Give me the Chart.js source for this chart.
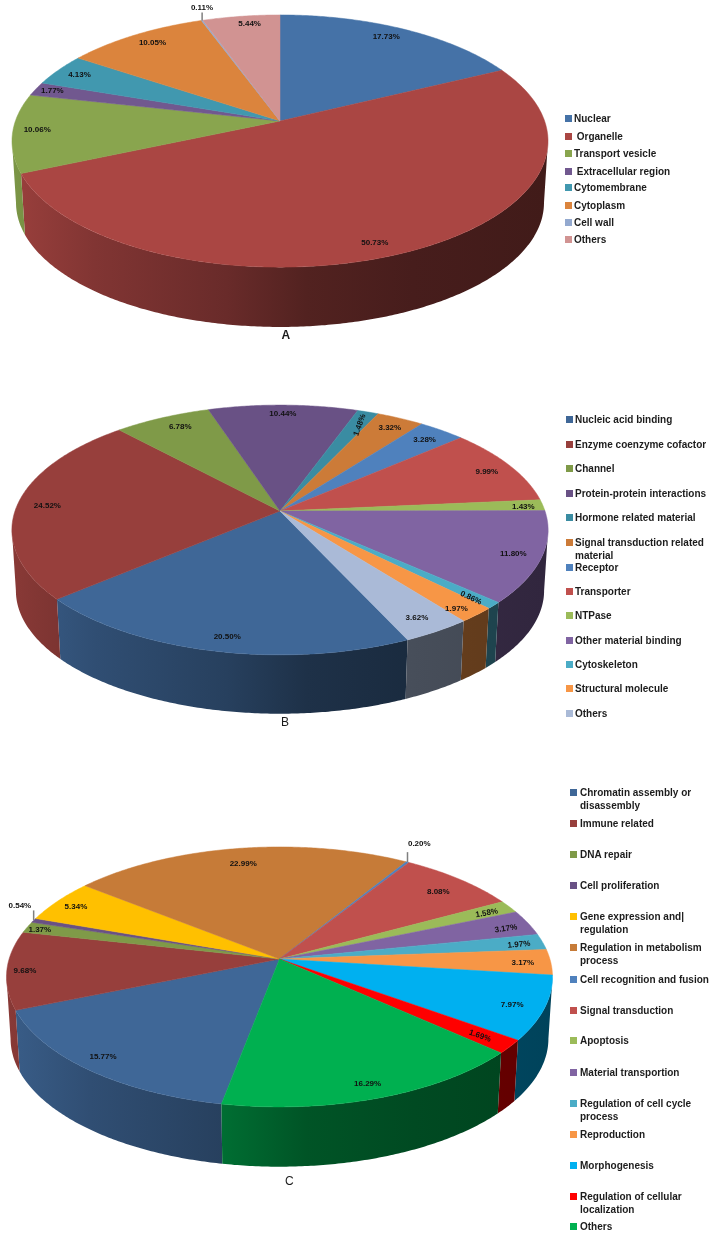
<!DOCTYPE html>
<html>
<head>
<meta charset="utf-8">
<title>Pie charts A, B, C</title>
<script src="https://cdn.jsdelivr.net/npm/chart.js@4"></script>
<style>
  html, body { margin: 0; padding: 0; background: #fff; }
  #page { position: relative; width: 714px; height: 1235px; overflow: hidden; filter: blur(0.5px); }
  canvas { position: absolute; left: 0; }
  .legend-item, .panel-name {
    position: absolute; font-family: "Liberation Sans", Arial, sans-serif; color: #1c1c1c; white-space: pre;
  }
  .legend-item { font-size: 10px; font-weight: bold; line-height: 13px; }
  .legend-swatch { position: absolute; width: 7px; height: 7px; }
  .panel-name { font-size: 12px; }
</style>
</head>
<body>
<div id="page">
  <canvas id="pieA" width="714" height="385" style="top:0"></canvas>
  <canvas id="pieB" width="714" height="385" style="top:385px"></canvas>
  <canvas id="pieC" width="714" height="465" style="top:770px"></canvas>
</div>
<script>
// Panel A
const categoriesA = ['Nuclear', ' Organelle', 'Transport vesicle', ' Extracellular region', 'Cytomembrane', 'Cytoplasm', 'Cell wall', 'Others'];
const valuesA = [17.73, 50.73, 10.06, 1.77, 4.13, 10.05, 0.11, 5.44];
const colorsA = ['#4572A7', '#AA4643', '#89A54E', '#71588F', '#4198AF', '#DB843D', '#93A9CF', '#D19392'];

// Panel B
const categoriesB = ['Nucleic acid binding', 'Enzyme coenzyme cofactor', 'Channel', 'Protein-protein interactions', 'Hormone related material', 'Signal transduction related\nmaterial', 'Receptor', 'Transporter', 'NTPase', 'Other material binding', 'Cytoskeleton', 'Structural molecule', 'Others'];
const valuesB = [20.50, 24.52, 6.78, 10.44, 1.48, 3.32, 3.28, 9.99, 1.43, 11.80, 0.86, 1.97, 3.62];
const colorsB = ['#3F6797', '#973F3C', '#7F9A48', '#695185', '#3A8CA2', '#CC7B38', '#4F81BD', '#C0504D', '#9BBB59', '#8064A2', '#4BACC6', '#F79646', '#AABAD7'];

// Panel C
const categoriesC = ['Chromatin assembly or\ndisassembly', 'Immune related', 'DNA repair', 'Cell proliferation', 'Gene expression and|\nregulation', 'Regulation in metabolism\nprocess', 'Cell recognition and fusion', 'Signal transduction', 'Apoptosis', 'Material transportion', 'Regulation of cell cycle\nprocess', 'Reproduction', 'Morphogenesis', 'Regulation of cellular\nlocalization', 'Others'];
const valuesC = [15.77, 9.68, 1.37, 0.54, 5.34, 22.99, 0.20, 8.08, 1.58, 3.17, 1.97, 3.17, 7.97, 1.69, 16.29];
const colorsC = ['#3F6797', '#973F3C', '#7F9A48', '#695185', '#FFC000', '#C67B38', '#4F81BD', '#C0504D', '#9BBB59', '#8064A2', '#4BACC6', '#F79646', '#00B0F0', '#FF0000', '#00B050'];

// Side wall brightness from the left to the right of a pie
const sideShade = [[0, 0.9], [0.15, 0.76], [0.4, 0.62], [0.55, 0.48], [0.75, 0.42], [1, 0.38]];

// cx, cy: apex in the canvas; k: perspective strength; depth, shrink: lower rim of the wall
const layoutA = {
  rotation: 0, cx: 280, cy: 121, rx: 264.6, ry: 122.9, k: 0.159, depth: 62, shrink: 0.985,
  labelRadius: [0.89, 0.91, 0.91, 0.93, 0.9, 0.89, 1.13, 0.91],
  labelShift: [-1.5, 5, 1, 0, 0, 1, 2, 1.5],
  labelTilt: [0, 0, 0, 0, 0, 0, 0, 0],
  leader: [0, 0, 0, 0, 0, 0, 8, 0],
  legendSwatch: 565, legendText: 574,
  legendY: [118, 136, 153, 171, 187, 205, 222, 239],
  name: 'A', nameX: 285.5, nameY: 335, nameBold: true
};
const layoutB = {
  rotation: 155.5, cx: 280, cy: 126, rx: 265, ry: 122, k: 0.152, depth: 61, shrink: 0.985,
  labelRadius: [0.91, 0.885, 0.875, 0.904, 0.858, 0.887, 0.873, 0.887, 0.924, 0.899, 0.915, 0.931, 0.898],
  labelShift: [-1.5, -0.5, 1.5, 0, 0.9, 0.5, 0.5, 1, 0.5, 0.5, 0.9, 1.5, 0.5],
  labelTilt: [0, 0, 0, 0, -70, 0, 0, 0, 0, 0, 25, 0, 0],
  leader: [0, 0, 0, 0, 0, 0, 0, 0, 0, 0, 0, 0, 0],
  legendSwatch: 566, legendText: 575,
  legendY: [419, 444, 468, 493, 517, 542, 567, 591, 615, 640, 664, 688, 713],
  name: 'B', nameX: 285, nameY: 722, nameBold: false
};
const layoutC = {
  rotation: 190.7, cx: 279.5, cy: 189, rx: 270.4, ry: 127.5, k: 0.138, depth: 62, shrink: 0.985,
  labelRadius: [0.91, 0.934, 0.944, 1.11, 0.906, 0.845, 1.187, 0.85, 0.891, 0.9, 0.907, 0.897, 0.889, 0.883, 0.91],
  labelShift: [1.3, -0.7, -0.7, 5, -0.7, -0.3, -2.1, 1.3, 0.6, 1.3, 0.6, 0.3, 1.3, 0.3, 0.3],
  labelTilt: [0, 0, 0, 0, 0, 0, 0, 0, -10, -8, -5, 0, 0, 20, 0],
  leader: [0, 0, 0, 10, 0, 0, 10, 0, 0, 0, 0, 0, 0, 0, 0],
  legendSwatch: 570, legendText: 580,
  legendY: [792, 823, 854, 885, 916, 947, 979, 1010, 1040, 1072, 1103, 1134, 1165, 1196, 1226],
  name: 'C', nameX: 289, nameY: 1181, nameBold: false
};

// Map an angle on the flat pie to the tilted disc in perspective
const project = (g, angle, r, lower) => {
  const u = r * Math.cos(angle);
  const v = r * Math.sin(angle);
  const w = 1 - g.k * v;
  const s = lower ? g.shrink : 1;
  return { x: g.cx + s * g.rx * u / w, y: g.cy + (lower ? g.depth : 0) + s * g.ry * v / w };
};

const arcPoints = (g, start, end, lower) => {
  const steps = Math.max(2, Math.ceil((end - start) / 0.01));
  const points = [];
  for (let i = 0; i <= steps; i++) {
    points.push(project(g, start + (end - start) * i / steps, 1, lower));
  }
  return points;
};

const darken = (hex, f) => {
  const n = parseInt(hex.slice(1), 16);
  return `rgb(${Math.round((n >> 16) * f)},${Math.round(((n >> 8) & 255) * f)},${Math.round((n & 255) * f)})`;
};

// Only the part of a slice that faces the viewer has a wall: clamp to the front half
const frontArcs = (start, end, k) => {
  const from = Math.asin(k);
  const to = Math.PI - from;
  const arcs = [];
  for (let turn = -2; turn <= 2; turn++) {
    const a = Math.max(start, from + turn * 2 * Math.PI);
    const b = Math.min(end, to + turn * 2 * Math.PI);
    if (b > a) arcs.push([a, b]);
  }
  return arcs;
};

const drawWall = (ctx, g, arc, color) => {
  const left = g.cx - g.rx;
  const gradient = ctx.createLinearGradient(left, 0, g.cx + g.rx, 0);
  sideShade.forEach(([t, f]) => gradient.addColorStop(t, darken(color, f)));
  frontArcs(arc.startAngle, arc.endAngle, g.k).forEach(([a, b]) => {
    const points = arcPoints(g, a, b, false).concat(arcPoints(g, a, b, true).reverse());
    ctx.beginPath();
    points.forEach((p, i) => (i ? ctx.lineTo(p.x, p.y) : ctx.moveTo(p.x, p.y)));
    ctx.closePath();
    ctx.fillStyle = gradient;
    ctx.fill();
  });
};

const drawTop = (ctx, g, arc, color) => {
  ctx.beginPath();
  ctx.moveTo(g.cx, g.cy);
  arcPoints(g, arc.startAngle, arc.endAngle, false).forEach(p => ctx.lineTo(p.x, p.y));
  ctx.closePath();
  ctx.fillStyle = color;
  ctx.strokeStyle = color;
  ctx.lineWidth = 0.5;
  ctx.fill();
  ctx.stroke();
};

const drawLabel = (ctx, g, arc, value, i) => {
  const mid = (arc.startAngle + arc.endAngle) / 2;
  if (g.leader[i]) {
    const rim = project(g, mid, 1, false);
    ctx.beginPath();
    ctx.moveTo(rim.x, rim.y);
    ctx.lineTo(rim.x, rim.y - g.leader[i]);
    ctx.strokeStyle = '#7f7f7f';
    ctx.lineWidth = 1.5;
    ctx.stroke();
  }
  const p = project(g, mid + g.labelShift[i] * Math.PI / 180, g.labelRadius[i], false);
  ctx.save();
  ctx.translate(p.x, p.y);
  ctx.rotate(g.labelTilt[i] * Math.PI / 180);
  ctx.font = 'bold 8px "Liberation Sans", Arial, sans-serif';
  ctx.fillStyle = '#111';
  ctx.textAlign = 'center';
  ctx.textBaseline = 'middle';
  ctx.fillText(value.toFixed(2) + '%', 0, 0);
  ctx.restore();
};

// Replaces the flat arcs with walls, a tilted top and the percent labels
const pie3d = g => ({
  id: 'pie3d',
  beforeDatasetDraw(chart) {
    const ctx = chart.ctx;
    const arcs = chart.getDatasetMeta(0).data;
    const { data, backgroundColor } = chart.data.datasets[0];
    arcs.forEach((arc, i) => drawWall(ctx, g, arc, backgroundColor[i]));
    arcs.forEach((arc, i) => drawTop(ctx, g, arc, backgroundColor[i]));
    arcs.forEach((arc, i) => drawLabel(ctx, g, arc, data[i], i));
    return false;
  }
});

const addLegend = (chart, g) => {
  const page = document.getElementById('page');
  chart.data.labels.forEach((label, i) => {
    const swatch = document.createElement('div');
    swatch.className = 'legend-swatch';
    swatch.style.left = g.legendSwatch + 'px';
    swatch.style.top = (g.legendY[i] - 3.5) + 'px';
    swatch.style.background = chart.data.datasets[0].backgroundColor[i];
    page.appendChild(swatch);
    const item = document.createElement('div');
    item.className = 'legend-item';
    item.style.left = g.legendText + 'px';
    item.style.top = (g.legendY[i] - 6.5) + 'px';
    item.textContent = label;
    page.appendChild(item);
  });
  const name = document.createElement('div');
  name.className = 'panel-name';
  name.style.left = (g.nameX - 4) + 'px';
  name.style.top = (g.nameY - 7) + 'px';
  name.style.fontWeight = g.nameBold ? 'bold' : 'normal';
  name.textContent = g.name;
  page.appendChild(name);
};

const makePie = (id, categories, values, colors, g) => {
  const chart = new Chart(document.getElementById(id), {
    type: 'pie',
    data: {
      labels: categories,
      datasets: [{ data: values, backgroundColor: colors, borderWidth: 0 }]
    },
    options: {
      responsive: false,
      animation: false,
      rotation: g.rotation,
      plugins: { legend: { display: false }, tooltip: { enabled: false } }
    },
    plugins: [pie3d(g)]
  });
  addLegend(chart, g);
};

makePie('pieA', categoriesA, valuesA, colorsA, layoutA);
makePie('pieB', categoriesB, valuesB, colorsB, layoutB);
makePie('pieC', categoriesC, valuesC, colorsC, layoutC);
</script>
</body>
</html>
